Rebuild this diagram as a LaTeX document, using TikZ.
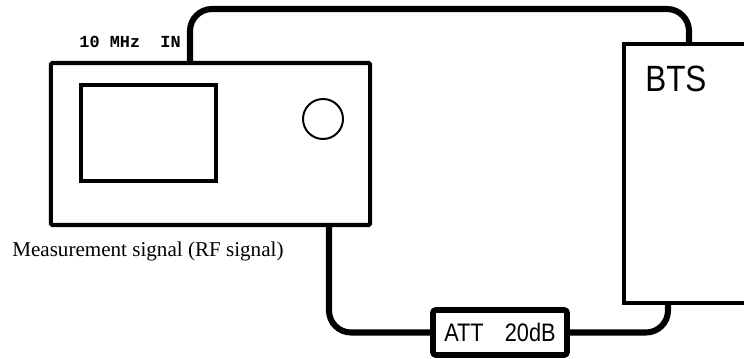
\documentclass[tikz,border=0pt]{standalone}
\usepackage{fontspec}
\setmainfont{Liberation Serif}
\newfontfamily\condsans[FakeStretch=0.86]{Liberation Sans}
\newfontfamily\monofont{Liberation Mono}
\usetikzlibrary{calc, positioning}

\begin{document}
\begin{tikzpicture}[x=0.025cm, y=-0.025cm,
    box/.style={draw, line width=2.9pt, rectangle, inner sep=0pt},
    cable/.style={line width=4.3pt, rounded corners=0.55cm},
    lbl/.style={inner sep=0pt}]
    \clip (0,0) rectangle (744,359);

    \node[box, rounded corners=1pt, minimum width=7.975cm, minimum height=4.05cm] (meter) at (210.5,144) {};
    \node[box, minimum width=3.375cm, minimum height=2.4cm] (screen) at (148.5,133) {};
    \node[draw, circle, line width=1.4pt, minimum size=1cm] (knob) at (323,119) {};
    \node[box, minimum width=5cm, minimum height=6.475cm] (bts) at (724,173.5) {};
    \node[box, line width=4pt, rounded corners=2pt, minimum width=3.35cm, minimum height=1.125cm, font=\condsans\fontsize{18}{18}\selectfont] (att) at (500,332.5) {ATT\hspace{15pt}20dB};

    \node[lbl, anchor=base west, font=\condsans\fontsize{26}{26}\selectfont] (btsname) at (645,92) {BTS};
    \node[lbl, anchor=base east, font=\monofont\bfseries\fontsize{12}{12}\selectfont] (refin) at (181,48) {10 MHz\ \ IN};
    \node[lbl, anchor=base west, font=\fontsize{15}{15}\selectfont] (rfout) at (12,257) {Measurement signal (RF signal)};

    \coordinate (meterref) at (190,63);
    \coordinate (btsref) at (689,44);
    \coordinate (meterrf) at (329,225);
    \coordinate (btsrf) at (668,303);

    \draw[cable] (meterref) -- (meterref |- 0,9) -- (btsref |- 0,9) -- (btsref);
    \draw[cable] (meterrf) -- (meterrf |- att.west) -- (att.west);
    \draw[cable] (att.east) -- (btsrf |- att.east) -- (btsrf);
\end{tikzpicture}
\end{document}
